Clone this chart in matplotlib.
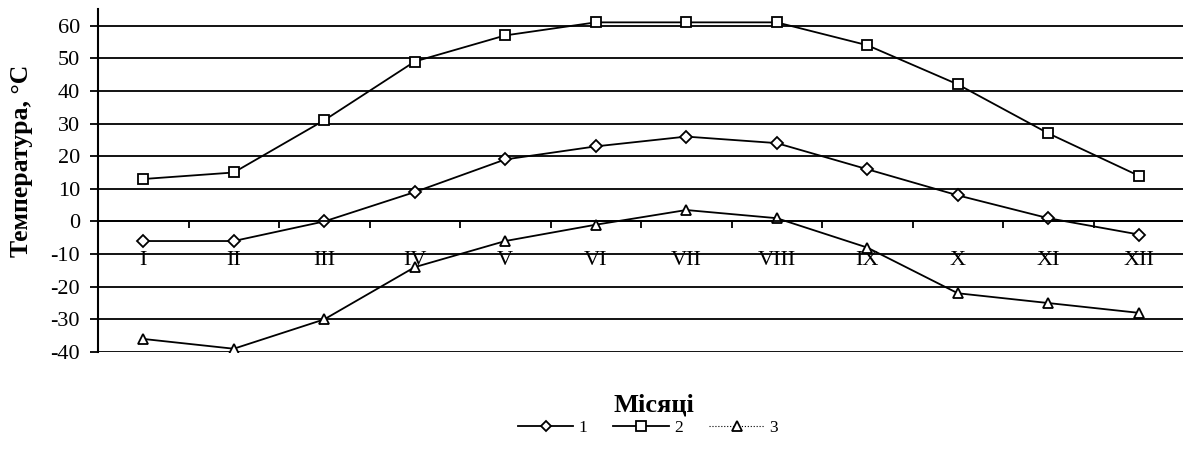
import numpy as np
import matplotlib.pyplot as plt
from matplotlib.lines import Line2D

plt.rcParams['font.family'] = ['Liberation Serif', 'DejaVu Serif']
plt.rcParams['axes.unicode_minus'] = False

months = ['I', 'II', 'III', 'IV', 'V', 'VI', 'VII', 'VIII', 'IX', 'X', 'XI', 'XII']
series1 = [-6, -6, 0, 9, 19, 23, 26, 24, 16, 8, 1, -4]
series2 = [13, 15, 31, 49, 57, 61, 61, 61, 54, 42, 27, 14]
series3 = [-36, -39, -30, -14, -6, -1, 3.5, 1, -8, -22, -25, -28]
yticks = list(range(-40, 70, 10))

W, H = 1183, 463
fig = plt.figure(figsize=(W / 100, H / 100), dpi=100)
ax = fig.add_axes([98 / W, (H - 352) / H, (1184 - 98) / W, (352 - 9.3) / H])

x = np.arange(len(months))
style = dict(color='black', lw=1.3, markerfacecolor='white', markeredgecolor='black', mew=1.3)
ax.plot(x, series1, marker='D', ms=6, **style)
ax.plot(x, series2, marker='s', ms=7.5, **style)
ax.plot(x, series3, marker='^', ms=7.5, **style)

ax.set_xlim(-0.5, 11.5)
ax.set_ylim(-40, 65)
ax.set_yticks(yticks)
ax.yaxis.grid(True, color='black', lw=1.3)
ax.set_axisbelow(True)
ax.tick_params(axis='y', direction='out', length=6, width=1.3, labelsize=16, pad=7)

for s in ['top', 'right']:
    ax.spines[s].set_visible(False)
ax.spines['left'].set_linewidth(1.5)
ax.spines['bottom'].set_position(('data', 0))
ax.spines['bottom'].set_linewidth(1.3)

ax.set_xticks(np.arange(0.5, 11, 1))
ax.set_xticklabels([])
ax.set_xticks(x, minor=True)
ax.set_xticklabels(months, minor=True)
ax.tick_params(axis='x', which='major', direction='out', length=5, width=1.3)
ax.tick_params(axis='x', which='minor', length=0, labelsize=16, pad=21.5)

fig.text(22 / W, 1 - 161 / H, 'Температура, °С', rotation=90, ha='center', va='center',
         fontsize=18.5, fontweight='bold')
fig.text(654 / W, 1 - 405 / H, 'Місяці', ha='center', va='center', fontsize=19, fontweight='bold')

handles = [
    Line2D([], [], marker='D', ms=5, **style),
    Line2D([], [], marker='s', ms=6.5, **style),
    Line2D([], [], marker='^', ms=6.5, color='black', lw=0.8, ls=':', markerfacecolor='white',
           markeredgecolor='black', mew=1.3),
]
fig.legend(handles, ['1', '2', '3'], loc='center', bbox_to_anchor=(648 / W, 1 - 428 / H),
           ncol=3, frameon=False, fontsize=12.5, handlelength=3.2, columnspacing=1.5,
           handletextpad=0.3)

fig.savefig('out.png', dpi=100)
